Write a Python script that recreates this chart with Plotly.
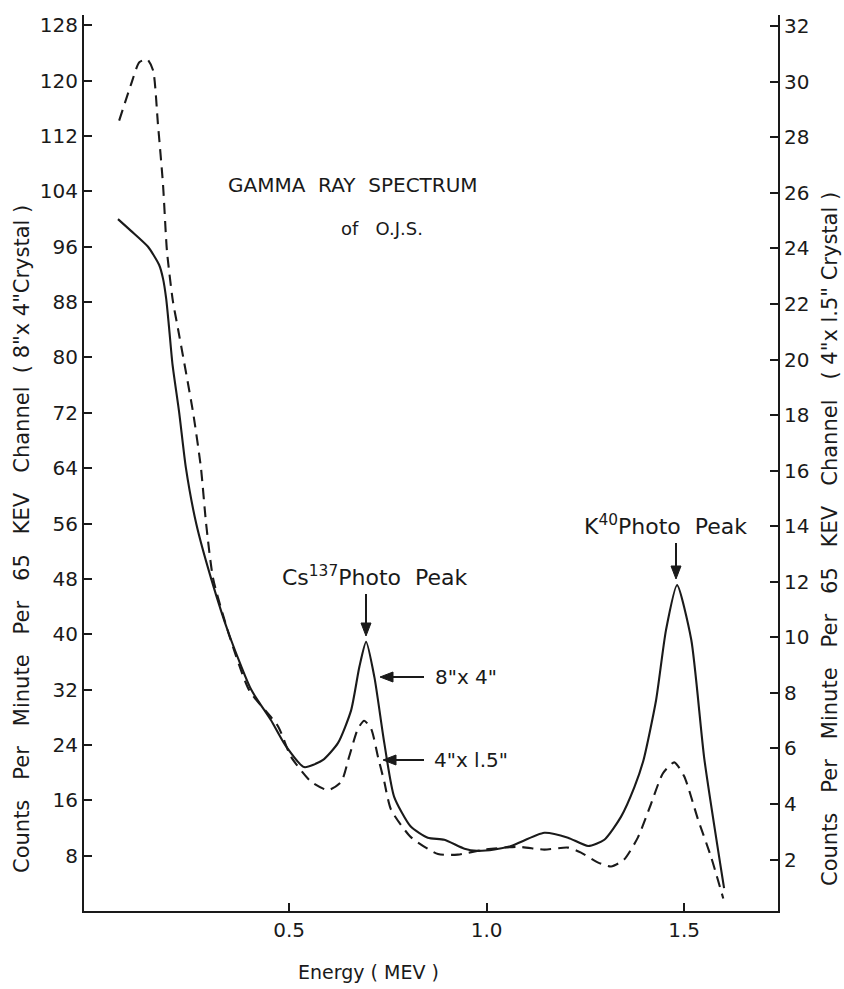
import math
import plotly.graph_objects as go

# ---- data ----
energy_8x4 = [0.067, 0.100, 0.143, 0.171, 0.181, 0.189, 0.196, 0.205, 0.222, 0.239, 0.265, 0.303,
              0.348, 0.404, 0.454, 0.490, 0.538, 0.585, 0.624, 0.657, 0.678, 0.695, 0.716,
              0.741, 0.766, 0.808, 0.851, 0.893, 0.944, 0.976, 1.020, 1.062, 1.146, 1.206,
              1.257, 1.298, 1.340, 1.374, 1.397, 1.429, 1.454, 1.482, 1.518, 1.551, 1.601]
counts_8x4 = [100.0, 98.3, 96.0, 93.4, 91.4, 88.5, 84.5, 79.0, 72.0, 64.0, 56.0, 48.0,
              40.0, 32.0, 27.6, 24.0, 20.8, 21.8, 24.3, 29.0, 35.3, 38.9, 33.8,
              24.3, 16.5, 12.2, 10.6, 10.3, 9.0, 8.7, 8.9, 9.4, 11.3, 10.6,
              9.4, 10.3, 13.6, 17.9, 21.8, 30.5, 40.6, 47.1, 39.2, 22.0, 3.3]

energy_4x15 = [0.070, 0.100, 0.121, 0.141, 0.156, 0.168, 0.181, 0.191, 0.206, 0.219, 0.257,
               0.277, 0.290, 0.308, 0.348, 0.399, 0.472, 0.505, 0.556, 0.599, 0.632, 0.652,
               0.674, 0.690, 0.708, 0.725, 0.741, 0.758, 0.809, 0.877, 0.927, 0.994, 1.079,
               1.146, 1.206, 1.239, 1.281, 1.315, 1.348, 1.383, 1.416, 1.446, 1.475, 1.500,
               1.535, 1.568, 1.599]
counts_4x15 = [28.6, 29.9, 30.7, 30.8, 30.4, 28.5, 26.3, 23.9, 22.1, 21.1, 18.1,
               16.1, 14.1, 12.1, 10.1, 8.1, 6.8, 5.7, 4.8, 4.5, 4.8, 5.7,
               6.7, 7.0, 6.7, 5.7, 4.8, 3.8, 2.8, 2.2, 2.18, 2.36, 2.46,
               2.36, 2.43, 2.25, 1.9, 1.75, 2.0, 2.8, 4.0, 5.1, 5.5, 5.0,
               3.45, 2.1, 0.6]

left_ticks = [8, 16, 24, 32, 40, 48, 56, 64, 72, 80, 88, 96, 104, 112, 120, 128]
right_ticks = [2, 4, 6, 8, 10, 12, 14, 16, 18, 20, 22, 24, 26, 28, 30, 32]
x_ticks = [0.5, 1.0, 1.5]
x_tick_labels = ["0.5", "1.0", "1.5"]

# ---- layout geometry ----
W, H = 844, 989
ML, MR, MT, MB = 84, 66, 15, 78
PW, PH = W - ML - MR, H - MT - MB
FONT = "DejaVu Sans"
INK = "#1a1a1a"


def px(xp):
    return (xp - ML) / PW


def py(yp):
    return (H - MB - yp) / PH


fig = go.Figure()
fig.add_trace(go.Scatter(x=energy_8x4, y=counts_8x4, mode="lines", name='8"x4"',
                         line=dict(color=INK, width=2.1, shape="spline", smoothing=0.6),
                         yaxis="y"))
fig.add_trace(go.Scatter(x=energy_4x15, y=counts_4x15, mode="lines", name='4"x1.5"',
                         line=dict(color=INK, width=2.1, shape="spline", smoothing=0.6,
                                   dash="11px,7px"),
                         yaxis="y2"))

axis_common = dict(showgrid=False, zeroline=False, showline=True, linecolor=INK, linewidth=2,
                   ticks="inside", ticklen=8, tickwidth=2, tickcolor=INK,
                   tickfont=dict(family=FONT, size=20, color=INK))

fig.update_layout(
    width=W, height=H,
    margin=dict(l=ML, r=MR, t=MT, b=MB, pad=0),
    paper_bgcolor="white", plot_bgcolor="white",
    showlegend=False,
    xaxis=dict(range=[-0.019, 1.7375], tickvals=x_ticks, ticktext=x_tick_labels,
               **axis_common),
    yaxis=dict(range=[0, 129.5], tickvals=left_ticks, **axis_common),
    yaxis2=dict(range=[0.15, 32.4], tickvals=right_ticks, overlaying="y", side="right",
                **axis_common),
)


def label(xp, yp, text, size, xanchor="center", angle=0):
    return dict(x=px(xp), y=py(yp), xref="paper", yref="paper", showarrow=False,
                xanchor=xanchor, yanchor="middle", text=text, textangle=angle,
                font=dict(family=FONT, size=size, color=INK))


ann = [
    label(22, 539, 'Counts   Per   Minute   Per   65   KEV   Channel  ( 8"x 4"Crystal )',
          21, angle=-90),
    label(830, 539, 'Counts   Per   Minute   Per   65   KEV   Channel   ( 4"x l.5" Crystal )',
          21, angle=-90),
    label(368, 972, "Energy ( MEV )", 19),
    label(353, 185, "GAMMA  RAY  SPECTRUM", 20),
    label(382, 228, "of   O.J.S.", 18),
    label(280, 576, "Cs<sup>137</sup>Photo  Peak", 22, xanchor="left"),
    label(582, 525, "K<sup>40</sup>Photo  Peak", 22, xanchor="left"),
    label(433, 677, '8"x 4"', 20, xanchor="left"),
    label(432, 760, '4"x l.5"', 20, xanchor="left"),
]

# arrows drawn as shapes (tail -> head, pixel coordinates)
arrows_px = [
    (366, 594, 366, 636),
    (676, 543, 676, 579),
    (424, 677, 380, 677),
    (424, 760, 383, 760),
]
shapes = []
for x0, y0, x1, y1 in arrows_px:
    L = math.hypot(x1 - x0, y1 - y0)
    ux, uy = (x1 - x0) / L, (y1 - y0) / L
    hl, hw = 13, 5
    bx, by = x1 - ux * hl, y1 - uy * hl
    shapes.append(dict(type="line", xref="paper", yref="paper",
                       x0=px(x0), y0=py(y0), x1=px(bx + ux * 2), y1=py(by + uy * 2),
                       line=dict(color=INK, width=2)))
    p1 = (bx - uy * hw, by + ux * hw)
    p2 = (bx + uy * hw, by - ux * hw)
    path = "M {} {} L {} {} L {} {} Z".format(px(x1), py(y1), px(p1[0]), py(p1[1]),
                                            px(p2[0]), py(p2[1]))
    shapes.append(dict(type="path", xref="paper", yref="paper", path=path,
                       fillcolor=INK, line=dict(color=INK, width=1)))

fig.update_layout(annotations=ann, shapes=shapes)
fig.write_html("out.html")
